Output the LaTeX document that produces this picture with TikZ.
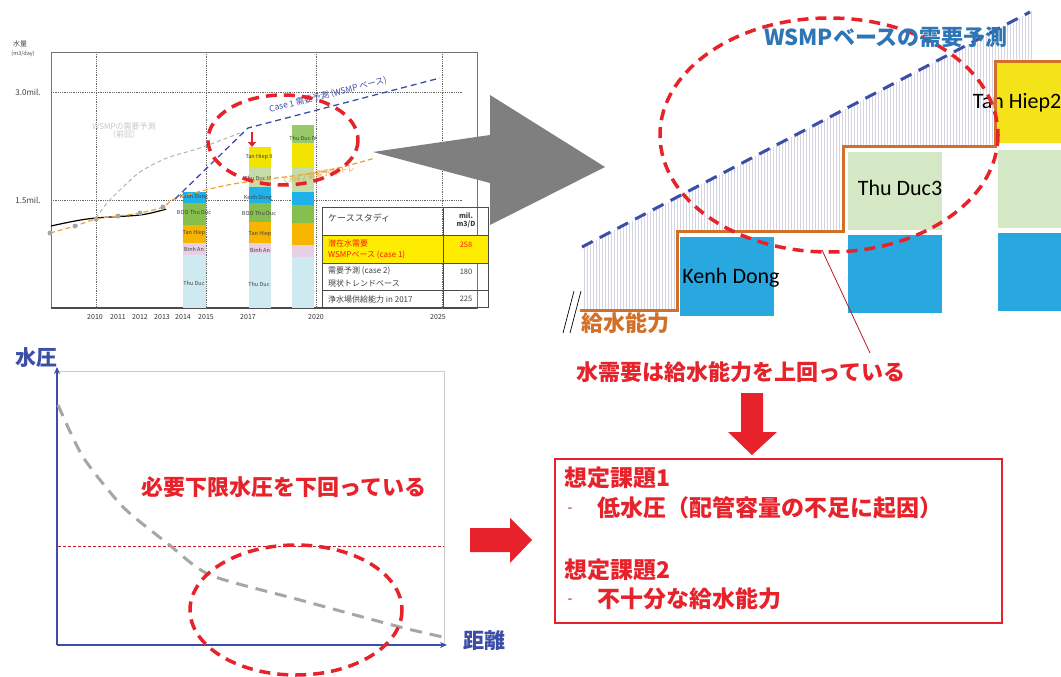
\documentclass[tikz,border=0pt]{standalone}
\usepackage{fontspec}
\setmainfont{Noto Sans CJK JP}
\newfontfamily\carlito{Carlito}
\usetikzlibrary{arrows.meta}
\definecolor{myred}{HTML}{E8222A}
\definecolor{ind}{HTML}{3D4EA6}
\definecolor{wsmpblue}{HTML}{2E75B6}
\definecolor{capor}{HTML}{D2702A}
\definecolor{kdblue}{HTML}{29A8E0}
\definecolor{tdgreen}{HTML}{D5E8C5}
\definecolor{thyellow}{HTML}{F5E31A}
\definecolor{barlb}{HTML}{CFE9F1}
\definecolor{barpink}{HTML}{E7CFE6}
\definecolor{barorange}{HTML}{F7B500}
\definecolor{bargreen}{HTML}{86BF4E}
\definecolor{barcyan}{HTML}{1FB2EA}
\definecolor{barlg}{HTML}{C3DCA8}
\definecolor{baryellow}{HTML}{F2E300}
\definecolor{hatchc}{HTML}{D4D4E2}
\definecolor{arrgray}{HTML}{7F7F7F}
\definecolor{caseor}{HTML}{F0A030}
\tikzset{
  fs/.style={font=\fontsize{#1}{#1}\selectfont},
  bigjp/.style={font=\bfseries\fontsize{#1}{#1}\selectfont, inner sep=0pt},
  blocktxt/.style={font=\carlito\fontsize{22}{22}\selectfont, inner sep=0pt},
  barlbl/.style={font=\fontsize{5.5}{5.5}\selectfont, inner sep=0pt, text=black!75},
  yearlbl/.style={font=\fontsize{7}{7}\selectfont, inner sep=0pt, text=black!80},
  tbltxt/.style={font=\fontsize{8}{8}\selectfont, inner sep=0pt, anchor=west, text=black!75},
  reddash/.style={draw=myred, line width=3.5pt, dash pattern=on 11pt off 7pt},
  grid/.style={densely dotted, line width=0.8pt, black!60},
  axis/.style={draw=ind, line width=1.2pt, -{Stealth[length=7pt,width=6pt]}},
}
\begin{document}
\begin{tikzpicture}[x=1pt,y=-1pt]
\useasboundingbox (0,0) rectangle (1061,677);
\fill[white] (0,0) rectangle (1061,677);
\clip (0,0) rectangle (1061,677);

%%%%%%%% top-left chart
\draw[black!55, line width=0.8pt] (51,52) rectangle (477,308);
\draw[black!70, line width=1.2pt] (51,308) -- (477,308);
\draw[grid] (51,92) -- (463,92);
\draw[grid] (51,200) -- (463,200);
\foreach \gx in {96,206,316,442} \draw[grid] (\gx,52) -- (\gx,308);
\node[fs=7, inner sep=0pt, text=black!70] (yq) at (20,44) {水量};
\node[fs=5.5, inner sep=0pt, text=black!70] (yu) at (23,54) {(m3/day)};
\node[fs=8, inner sep=0pt, text=black!75] (y3) at (28,92) {3.0mil.};
\node[fs=8, inner sep=0pt, text=black!75] (y15) at (28,200) {1.5mil.};
\foreach \yr/\px in {2010/95,2011/118,2012/140,2013/162,2014/183,2015/206,2017/248,2020/316,2025/438}
  \node[yearlbl] (yr\yr) at (\px,317) {\yr};

% bar 2014
\fill[barlb] (183,255) rectangle (206,308);
\fill[barpink] (183,243) rectangle (206,255);
\fill[barorange] (183,225) rectangle (206,243);
\fill[bargreen] (183,203) rectangle (206,225);
\fill[barcyan] (183,192) rectangle (206,203);
\node[barlbl] (a1) at (194,283) {Thu Duc};
\node[barlbl] (a2) at (194,249) {Binh An};
\node[barlbl] (a3) at (194,233) {Tan Hiep};
\node[barlbl] (a4) at (194,212) {BOO Thu Duc};
\node[barlbl] (a5) at (194,197) {Kenh Dong};
% bar 2017
\fill[barlb] (249,253) rectangle (271,308);
\fill[barpink] (249,243) rectangle (271,253);
\fill[barorange] (249,222) rectangle (271,243);
\fill[bargreen] (249,203) rectangle (271,222);
\fill[barcyan] (249,187) rectangle (271,203);
\fill[barlg] (249,168) rectangle (271,187);
\fill[baryellow] (249,147) rectangle (271,168);
\node[barlbl] (b1) at (259,284) {Thu Duc};
\node[barlbl] (b2) at (260,250) {Binh An};
\node[barlbl] (b3) at (260,234) {Tan Hiep};
\node[barlbl] (b4) at (259,213) {BOO Thu Duc};
\node[barlbl] (b5) at (258,198) {Kenh Dong};
\node[barlbl] (b6) at (258,178) {Thu Duc III};
\node[barlbl] (b7) at (259,157) {Tan Hiep II};
% bar 2020
\fill[barlb] (292,257) rectangle (314,308);
\fill[barpink] (292,245) rectangle (314,257);
\fill[barorange] (292,223) rectangle (314,245);
\fill[bargreen] (292,205) rectangle (314,223);
\fill[barcyan] (292,192) rectangle (314,205);
\fill[barlg] (292,168) rectangle (314,192);
\fill[baryellow] (292,143) rectangle (314,168);
\fill[bargreen!85] (292,125) rectangle (314,143);
\node[barlbl] (c1) at (303,138) {Thu Duc IV};

% old WSMP forecast
\node[fs=8, inner sep=0pt, text=black!22, align=center] (oldw) at (124,131) {WSMPの需要予測\\（前回）};
\draw[black!30, line width=1pt, dash pattern=on 4pt off 3pt] plot[smooth] coordinates {(96,218) (107,203) (120,190) (140,172) (167,158) (200,148) (240,133)};
% historical
\draw[black, line width=1.2pt] plot[smooth] coordinates {(51,226) (75,221) (96,218) (140,215) (163,210) (166,209)};
% case 2
\draw[caseor, line width=1.2pt, dash pattern=on 5pt off 3pt] plot[smooth] coordinates {(50,233) (75,226) (96,219) (118,216) (140,213) (163,207) (177,198) (233,184) (320,172) (375,158)};
\foreach \mx/\my in {50/233,75/226,96/219,118/216,140/213,163/207}
  \fill[black!35] (\mx,\my) circle (2.5pt);
\node[font=\fontsize{7.5}{7.5}\selectfont, inner sep=0pt, text=caseor, rotate=10, anchor=west] (c2lbl) at (284,181) {Case 2 需要予測(トレ};
% case 1
\draw[ind, line width=1.3pt, dash pattern=on 6pt off 4pt] (175,199) -- (248,128) -- (440,78);
\node[font=\fontsize{8.5}{8.5}\selectfont, inner sep=0pt, text=ind, rotate=14] (c1lbl) at (328,95) {Case 1 需要予測 (WSMP ベース)};
\draw[reddash] (283,140) ellipse [x radius=75, y radius=45];
\draw[myred, line width=2.5pt, -{Triangle[length=5pt,width=8pt]}] (252,132) -- (252,147);

% table
\fill[yellow!95!orange] (322,235) rectangle (488,263);
\draw[black!70, line width=0.9pt] (322,207) rectangle (488,307);
\foreach \ty in {235,263,290} \draw[black!70, line width=0.9pt] (322,\ty) -- (488,\ty);
\draw[black!70, line width=0.9pt] (443,207) -- (443,307);
\node[tbltxt, font=\fontsize{9}{9}\selectfont] (t1) at (328,218) {ケーススタディ};
\node[font=\bfseries\fontsize{7}{8.5}\selectfont, inner sep=0pt, align=center, text=black!75] (t1v) at (466,220) {mil.\\m3/D};
\node[tbltxt, text=red!80!orange] (t2a) at (328,243) {潜在水需要};
\node[tbltxt, text=red!80!orange] (t2b) at (328,255) {WSMPベース (case 1)};
\node[font=\fontsize{7.5}{7.5}\selectfont, inner sep=0pt, text=red!80!orange] (t2v) at (466,245) {258};
\node[tbltxt] (t3a) at (328,271) {需要予測 (case 2)};
\node[tbltxt] (t3b) at (328,283) {現状トレンドベース};
\node[font=\fontsize{7.5}{7.5}\selectfont, inner sep=0pt, text=black!75] (t3v) at (466,272) {180};
\node[tbltxt] (t4) at (328,299) {浄水場供給能力 in 2017};
\node[font=\fontsize{7.5}{7.5}\selectfont, inner sep=0pt, text=black!75] (t4v) at (466,299) {225};

% big gray arrow
\fill[arrgray] (373,152) -- (490,135) -- (490,95) -- (605,167) -- (490,225) -- (490,183) -- cycle;

%%%%%%%% top-right panel
\foreach \x in {584,587,...,1031}{
  \pgfmathsetmacro\yt{247-0.5246*(\x-582)}
  \pgfmathsetmacro\yb{\x<677 ? 310 : (\x<843 ? 231 : (\x<995 ? 146 : 62))}
  \draw[hatchc, line width=0.45pt] (\x,\yt) -- (\x,\yb);
}
\node[fill=kdblue, minimum width=94pt, minimum height=79pt, inner sep=0pt] (kd) at (727,276) {};
\node[fill=kdblue, minimum width=94pt, minimum height=78pt, inner sep=0pt] (blk2) at (895,274) {};
\node[fill=tdgreen, minimum width=94pt, minimum height=78pt, inner sep=0pt] (td3) at (895,191) {};
\node[fill=kdblue, minimum width=66pt, minimum height=78pt, inner sep=0pt] (blk3) at (1031,272) {};
\node[fill=tdgreen, minimum width=66pt, minimum height=78pt, inner sep=0pt] (blk4) at (1031,189) {};
\node[fill=thyellow, minimum width=66pt, minimum height=79pt, inner sep=0pt] (th2) at (1028,103) {};
\node[blocktxt] (kdl) at (731,278) {Kenh Dong};
\node[blocktxt] (tdl) at (900,188) {Thu Duc3};
\node[blocktxt] (thl) at (1017,103) {Tan Hiep2};
\draw[capor, line width=3pt] (580,310) -- (677,310) -- (677,231) -- (843,231) -- (843,146) -- (995,146) -- (995,62) -- (1065,62);
\draw[ind, line width=3pt, dash pattern=on 12pt off 8pt] (582,247) -- (1030,12);
\draw[black, line width=0.7pt] (563,333) -- (574,291);
\draw[black, line width=0.7pt] (570,333) -- (581,291);
\node[bigjp=22, text=capor] (cap) at (625,323) {給水能力};
\draw[reddash] (829,135) ellipse [x radius=169, y radius=117];
\node[bigjp=22, text=wsmpblue] (wsmp) at (886,37) {WSMPベースの需要予測};
\coordinate (ellb) at (822,250);
\coordinate (lineend) at (870,353);
\node[bigjp=22, text=myred] (dem) at (741,372) {水需要は給水能力を上回っている};
\draw[myred!80!black, line width=0.8pt] (ellb) -- (lineend);

% down arrow
\fill[myred] (741,393) -- (763,393) -- (763,432) -- (777,432) -- (752,455) -- (728,432) -- (741,432) -- cycle;

% issue box
\node[draw=myred, line width=1.2pt, minimum width=447pt, minimum height=164pt, inner sep=0pt] (box) at (778.5,541) {};
\node[bigjp=23, text=myred, anchor=west] (i1) at (564,478) {想定課題1};
\node[fs=14, inner sep=0pt, text=myred!70!black] (d1) at (570,510) {-};
\node[bigjp=23, text=myred, anchor=west] (i1t) at (597,508) {低水圧（配管容量の不足に起因）};
\node[bigjp=23, text=myred, anchor=west] (i2) at (564,570) {想定課題2};
\node[fs=14, inner sep=0pt, text=myred!70!black] (d2) at (570,601) {-};
\node[bigjp=23, text=myred, anchor=west] (i2t) at (597,599) {不十分な給水能力};

%%%%%%%% bottom-left chart
\draw[black!20, line width=0.8pt] (57,371) rectangle (444,645);
\draw[axis] (57,645) -- (57,367);
\draw[axis] (57,645) -- (447,645);
\node[bigjp=21, text=ind] (wp) at (37,358) {水圧};
\node[bigjp=21, text=ind] (dist) at (484,641) {距離};
\draw[myred!85!black, line width=0.8pt, dash pattern=on 3pt off 2pt] (58,546) -- (444,546);
\draw[black!35, line width=3pt, dash pattern=on 12pt off 8pt] plot[smooth, tension=0.4] coordinates {(58,405) (83,457) (123,507) (167,543) (210,575) (300,600) (400,627) (443,637)};
\node[bigjp=22, text=myred] (req) at (284,487) {必要下限水圧を下回っている};
\draw[reddash] (296,610) ellipse [x radius=106, y radius=65];

% right arrow
\fill[myred] (470,528) -- (510,528) -- (510,518) -- (532,540) -- (510,563) -- (510,552) -- (470,552) -- cycle;
\end{tikzpicture}
\end{document}
